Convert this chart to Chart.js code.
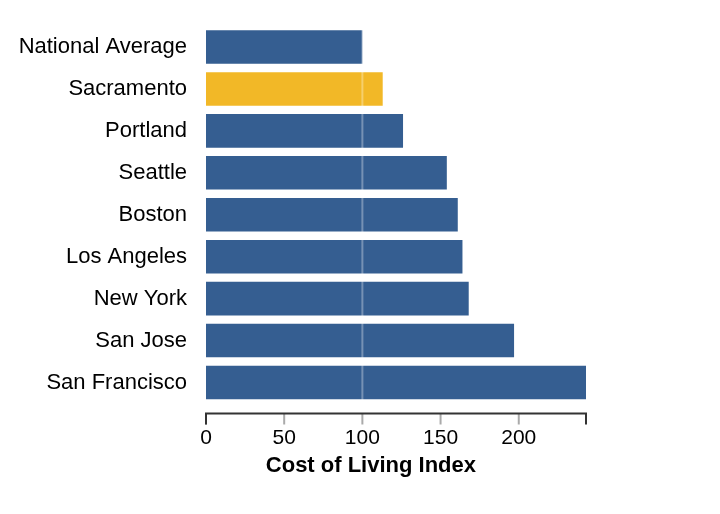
<!DOCTYPE html>
<html>
<head>
<meta charset="utf-8">
<script src="https://cdn.jsdelivr.net/npm/chart.js@4/dist/chart.umd.min.js"></script>
<style>
  html, body { margin: 0; padding: 0; background: #fff; }
  #wrap { width: 720px; height: 514px; }
</style>
</head>
<body>
<div id="wrap"><canvas id="c" width="720" height="514"></canvas></div>
<script>
const categories = ['National Average', 'Sacramento', 'Portland', 'Seattle', 'Boston', 'Los Angeles', 'New York', 'San Jose', 'San Francisco'];
const costIndex = [100, 113, 126, 154, 161, 164, 168, 197, 243];
const highlightCity = 'Sacramento';
const referenceValue = 100;
const xTickValues = [0, 50, 100, 150, 200];
const axisTitle = 'Cost of Living Index';

const BLUE = '#355e91';
const YELLOW = '#f2b827';
const FONT = "'Liberation Sans', Arial, Helvetica, sans-serif";
const xMax = Math.max(...costIndex);

const axisPlugin = {
  id: 'vegaAxis',
  afterDatasetsDraw(chart) {
    const ctx = chart.ctx;
    const xs = chart.scales.x;
    const area = chart.chartArea;
    const rx = xs.getPixelForValue(referenceValue);
    ctx.save();
    ctx.strokeStyle = 'rgba(255,255,255,0.32)';
    ctx.lineWidth = 2;
    ctx.beginPath();
    ctx.moveTo(rx, area.top);
    ctx.lineTo(rx, area.bottom);
    ctx.stroke();
    ctx.restore();
  },
  afterDraw(chart) {
    const ctx = chart.ctx;
    const xs = chart.scales.x;
    const area = chart.chartArea;
    const y0 = area.bottom + 10;
    const tickLen = 11;
    ctx.save();
    ctx.lineWidth = 2;
    ctx.strokeStyle = '#aaaaaa';
    xTickValues.forEach(v => {
      const px = xs.getPixelForValue(v);
      ctx.beginPath();
      ctx.moveTo(px, y0);
      ctx.lineTo(px, y0 + tickLen);
      ctx.stroke();
    });
    const x0 = xs.getPixelForValue(0);
    const x1 = xs.getPixelForValue(xMax);
    ctx.strokeStyle = '#333333';
    ctx.beginPath();
    ctx.moveTo(x0, y0 + tickLen);
    ctx.lineTo(x0, y0);
    ctx.lineTo(x1, y0);
    ctx.lineTo(x1, y0 + tickLen);
    ctx.stroke();
    // axis title (centred like the reference, slightly left of the plot centre)
    ctx.fillStyle = '#000';
    ctx.font = "bold 22px " + FONT;
    ctx.textAlign = 'center';
    ctx.textBaseline = 'middle';
    const titleX = x0 + (x1 - x0) * 0.434;
    ctx.fillText(axisTitle, titleX, area.bottom + 62);
    ctx.restore();
  }
};

new Chart(document.getElementById('c'), {
  type: 'bar',
  data: {
    labels: categories,
    datasets: [{
      data: costIndex,
      backgroundColor: categories.map(c => c === highlightCity ? YELLOW : BLUE),
      borderWidth: 0,
      categoryPercentage: 1.0,
      barPercentage: 0.8
    }]
  },
  options: {
    indexAxis: 'y',
    responsive: false,
    animation: false,
    devicePixelRatio: 1,
    layout: { padding: { top: 26, right: 134, left: 0, bottom: 0 } },
    plugins: { legend: { display: false }, tooltip: { enabled: false } },
    scales: {
      y: {
        grid: { display: false, drawTicks: false },
        border: { display: false },
        ticks: { color: '#000', padding: 19, font: { family: FONT, size: 22 } },
        afterFit(scale) { scale.width = 206; scale.paddingTop = 0; scale.paddingBottom = 0; }
      },
      x: {
        min: 0,
        max: xMax,
        grid: { display: false, drawTicks: false },
        border: { display: false },
        afterBuildTicks(scale) { scale.ticks = xTickValues.map(v => ({ value: v })); },
        ticks: { color: '#000', padding: 22, maxRotation: 0, font: { family: FONT, size: 21 } },
        title: { display: false },
        afterFit(scale) { scale.height = 110.5; scale.paddingLeft = 0; scale.paddingRight = 0; }
      }
    }
  },
  plugins: [axisPlugin]
});
</script>
</body>
</html>
